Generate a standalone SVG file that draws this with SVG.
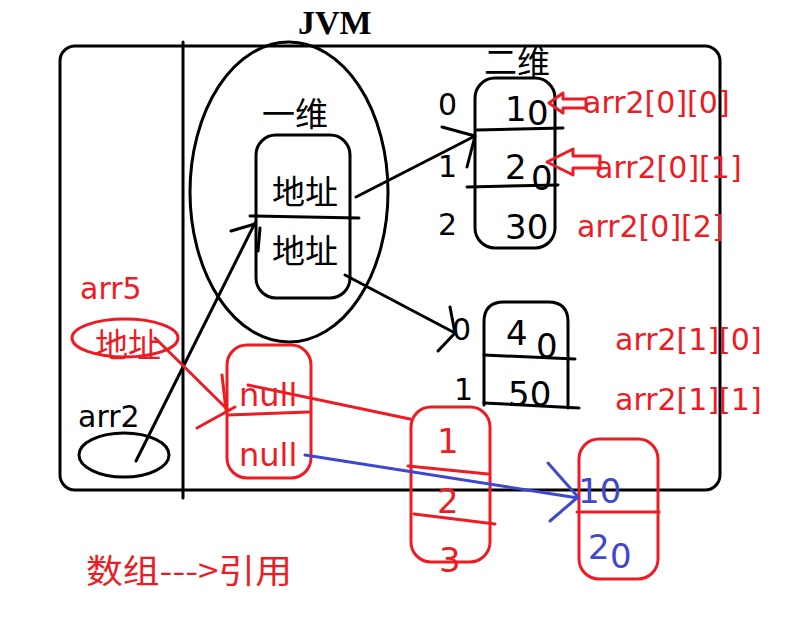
<svg xmlns="http://www.w3.org/2000/svg" width="812" height="632" viewBox="0 0 812 632">
<style>
.k{fill:none;stroke:#000;stroke-width:3;stroke-linecap:round;stroke-linejoin:round}
.r{fill:none;stroke:#ED1C24;stroke-width:3;stroke-linecap:round;stroke-linejoin:round}
.b{fill:none;stroke:#3F48CC;stroke-width:3;stroke-linecap:round;stroke-linejoin:round}
text{font-family:"DejaVu Sans","Noto Sans CJK SC",sans-serif;font-size:30px}
.big{font-size:34px}
.cjk{font-family:"Noto Sans CJK SC","DejaVu Sans",sans-serif;font-size:33px}
.tk{fill:#000}.tr{fill:#ED1C24}.tb{fill:#3F48CC}
</style>
<rect width="812" height="632" fill="#fff"/>
<g id="jvm">
<rect class="k" x="60" y="46" width="660" height="444" rx="15"/>
<line class="k" x1="183" y1="42" x2="183" y2="498"/>
<text x="298" y="34" style="font-family:'Liberation Serif',serif;font-size:34px;font-weight:bold">JVM</text>
</g>
<g id="oneDim">
<ellipse class="k" cx="289" cy="192" rx="99" ry="150"/>
<text class="cjk tk" x="262" y="126">一维</text>
<rect class="k" x="256" y="135" width="94" height="163" rx="20"/>
<line class="k" x1="250" y1="216" x2="359" y2="218"/>
<text class="cjk tk" x="272" y="204">地址</text>
<text class="cjk tk" x="272" y="263">地址</text>
</g>
<g id="twoDim0">
<text class="cjk tk" x="484" y="74">二维</text>
<rect class="k" x="475" y="78" width="80" height="170" rx="20"/>
<line class="k" x1="477" y1="130" x2="563" y2="128"/>
<line class="k" x1="467" y1="187" x2="558" y2="185"/>
<text class="tk" x="438" y="115">0</text>
<text class="tk" x="438" y="177">1</text>
<text class="tk" x="438" y="235">2</text>
<text class="tk big" x="505" y="121">1</text>
<text class="tk big" x="527" y="125">0</text>
<text class="tk big" x="505" y="179">2</text>
<text class="tk big" x="531" y="190">0</text>
<text class="tk big" x="505" y="239">30</text>
</g>
<g id="twoDim1">
<path class="k" d="M484,405 V322 Q484,302 504,302 H548 Q568,302 568,322 V408"/>
<line class="k" x1="484" y1="355" x2="575" y2="359"/>
<line class="k" x1="484" y1="403" x2="579" y2="408"/>
<text class="tk" x="452" y="340">0</text>
<text class="tk" x="454" y="400">1</text>
<text class="tk big" x="506" y="345">4</text>
<text class="tk big" x="536" y="358">0</text>
<text class="tk big" x="508" y="406">50</text>
</g>
<g id="labels">
<text class="tr" x="583" y="113">arr2[0][0]</text>
<text class="tr" x="595" y="178">arr2[0][1]</text>
<text class="tr" x="577" y="237">arr2[0][2]</text>
<text class="tr" x="615" y="350">arr2[1][0]</text>
<text class="tr" x="615" y="410">arr2[1][1]</text>
</g>
<g id="arr5">
<text class="tr" x="80" y="299">arr5</text>
<ellipse class="r" cx="125" cy="338" rx="53" ry="19"/>
<text class="cjk tr" x="95" y="357">地址</text>
</g>
<g id="arr2">
<text class="tk" x="78" y="427">arr2</text>
<ellipse class="k" cx="124" cy="455" rx="45" ry="22"/>
</g>
<g id="nullBox">
<rect class="r" x="227" y="345" width="84" height="133" rx="20"/>
<line class="r" x1="228" y1="415" x2="309" y2="412"/>
<text class="tr" x="239" y="406" style="font-size:32px">null</text>
<text class="tr" x="239" y="466" style="font-size:32px">null</text>
</g>
<g id="box123">
<rect class="r" x="411" y="407" width="79" height="155" rx="20"/>
<line class="r" x1="408" y1="466" x2="488" y2="474"/>
<line class="r" x1="414" y1="514" x2="495" y2="524"/>
<text class="tr big" x="437" y="453">1</text>
<text class="tr big" x="437" y="513">2</text>
<text class="tr big" x="439" y="572">3</text>
</g>
<g id="box1020">
<rect class="r" x="579" y="439" width="79" height="140" rx="20"/>
<line class="r" x1="577" y1="512" x2="659" y2="512"/>
<text class="tb big" x="578" y="503">10</text>
<text class="tb big" x="588" y="559">2</text>
<text class="tb big" x="610" y="568">0</text>
</g>
<g id="caption">
<text class="cjk tr" x="86" y="583" textLength="206" lengthAdjust="spacingAndGlyphs">数组---&gt;引用</text>
</g>
<g id="connectors">
<polyline class="k" points="136,461 255,223"/>
<polyline class="k" points="231,231 255,224"/>
<polyline class="k" points="260,228 258,251"/>
<polyline class="k" points="356,197 475,136"/>
<polyline class="k" points="442,127 475,136 467,167"/>
<polyline class="k" points="345,275 455,333"/>
<polyline class="k" points="450,307 455,333 438,351"/>
<polyline class="r" points="155,338 228,410"/>
<polyline class="r" points="222,375 226,410"/>
<polyline class="r" points="197,428 235,407"/>
<polyline class="r" points="248,385 410,419"/>
<polyline class="b" points="305,455 578,498"/>
<polyline class="b" points="548,463 578,497 550,521"/>
<polygon class="r" points="549,103 563,93 563,99 586,99 586,108 563,108 563,113"/>
<polygon class="r" points="547,162 573,149 573,156 600,156 600,168 573,168 573,175"/>
</g>
</svg>
